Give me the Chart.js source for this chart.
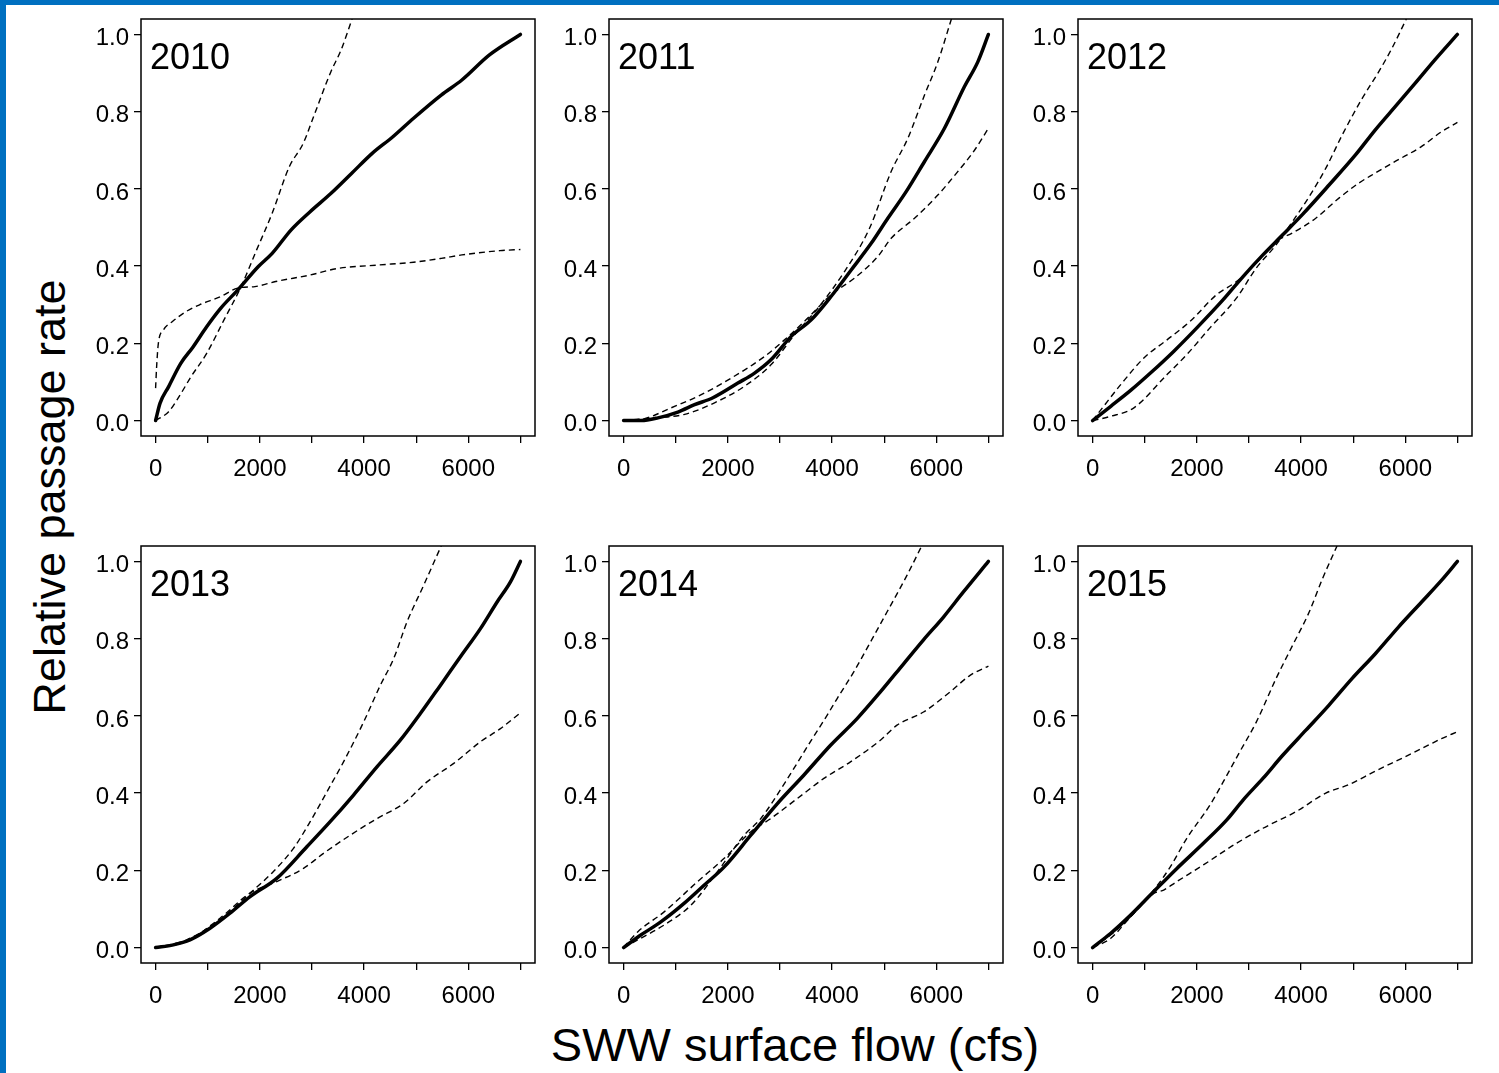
<!DOCTYPE html>
<html>
<head>
<meta charset="utf-8">
<script src="https://cdn.jsdelivr.net/npm/chart.js@4.4.0/dist/chart.umd.min.js"></script>
<style>
  body { margin: 0; background: #fff; }
  #page { position: relative; width: 1499px; height: 1073px; overflow: hidden; background: #fff;
          font-family: 'Liberation Sans', Arial, sans-serif; color: #000; }
  #edgeTop { position: absolute; left: 0; top: 0; width: 1499px; height: 5px; background: #0070c0; }
  #edgeLeft { position: absolute; left: 0; top: 0; width: 6px; height: 1073px; background: #0070c0; }
  canvas { position: absolute; }
  .year { position: absolute; font-size: 36px; line-height: 1; white-space: nowrap; }
  #ytitle { position: absolute; left: 49px; top: 497px; font-size: 45px; line-height: 1; white-space: nowrap;
            transform: translate(-50%, -50%) rotate(-90deg); }
  #xtitle { position: absolute; left: 795px; top: 1021px; font-size: 47px; line-height: 1; white-space: nowrap;
            transform: translateX(-50%); }
</style>
</head>
<body>
<div id="page">
  <div id="edgeTop"></div>
  <div id="edgeLeft"></div>
  <div id="ytitle">Relative passage rate</div>
  <div id="xtitle">SWW surface flow (cfs)</div>
</div>
<script>
// [flow, relative passage rate]
const years = ['2010', '2011', '2012', '2013', '2014', '2015'];

const fit2010 = [[0,0],[86,0.045],[251,0.088],[483,0.148],[715,0.19],[980,0.243],[1244,0.29],[1575,0.338],[1972,0.399],[2237,0.433],[2601,0.494],[2965,0.541],[3362,0.588],[3759,0.64],[4156,0.692],[4553,0.735],[4950,0.783],[5480,0.843],[5877,0.882],[6406,0.947],[7000,1.0]];
const hi2010 = [[0,0],[251,0.023],[450,0.062],[682,0.114],[980,0.174],[1310,0.26],[1641,0.347],[1939,0.442],[2237,0.537],[2568,0.658],[2833,0.718],[3031,0.787],[3362,0.903],[3560,0.96],[3770,1.04]];
const lo2010 = [[0,0.084],[20,0.14],[53,0.2],[152,0.235],[318,0.256],[582,0.282],[847,0.3],[1244,0.321],[1575,0.343],[1906,0.347],[2303,0.36],[2965,0.377],[3495,0.394],[4288,0.403],[4950,0.41],[5480,0.42],[5877,0.429],[6605,0.44],[7000,0.443]];

const fit2011 = [[0,0],[339,0],[659,0.007],[1042,0.022],[1362,0.041],[1714,0.059],[2193,0.097],[2513,0.123],[2832,0.158],[3216,0.218],[3600,0.261],[3984,0.322],[4367,0.39],[4751,0.459],[5070,0.524],[5422,0.593],[5774,0.671],[6157,0.757],[6541,0.865],[6797,0.929],[7000,1.0]];
const hi2011 = [[0,0],[595,0.007],[1170,0.016],[1745,0.046],[2321,0.089],[2832,0.145],[3280,0.222],[3728,0.291],[4239,0.386],[4719,0.498],[5134,0.645],[5454,0.731],[5774,0.843],[6030,0.929],[6290,1.04]];
const lo2011 = [[0,0],[403,0.005],[914,0.033],[1490,0.067],[2065,0.11],[2705,0.166],[3088,0.209],[3472,0.257],[3984,0.326],[4431,0.369],[4879,0.425],[5134,0.472],[5582,0.524],[6030,0.584],[6413,0.645],[6733,0.7],[7000,0.757]];

const fit2012 = [[0,0],[349,0.037],[730,0.078],[1110,0.123],[1555,0.179],[2000,0.24],[2506,0.313],[2887,0.373],[3268,0.429],[3648,0.481],[4029,0.534],[4537,0.61],[5044,0.688],[5425,0.753],[5806,0.813],[6187,0.873],[6567,0.934],[7000,1.0]];
const hi2012 = [[0,0],[349,0.011],[793,0.033],[1428,0.119],[1808,0.171],[2252,0.24],[2760,0.317],[3141,0.395],[3521,0.455],[3839,0.516],[4156,0.58],[4473,0.653],[4791,0.74],[5171,0.834],[5489,0.903],[5743,0.964],[6020,1.04]];
const lo2012 = [[0,0],[190,0.033],[539,0.093],[984,0.162],[1428,0.209],[1872,0.257],[2379,0.326],[2760,0.36],[3141,0.408],[3521,0.464],[3839,0.486],[4283,0.524],[4727,0.576],[5108,0.615],[5425,0.641],[5806,0.671],[6314,0.71],[6694,0.748],[7000,0.772]];

const fit2013 = [[0,0],[340,0.007],[660,0.02],[1044,0.05],[1428,0.089],[1813,0.132],[2325,0.179],[2902,0.261],[3350,0.326],[3798,0.395],[4247,0.468],[4695,0.537],[5080,0.606],[5464,0.679],[5849,0.753],[6233,0.826],[6553,0.895],[6809,0.947],[7000,1.0]];
const hi2013 = [[0,0],[596,0.02],[1236,0.072],[1813,0.141],[2261,0.197],[2646,0.257],[2966,0.326],[3286,0.403],[3606,0.481],[3991,0.584],[4311,0.679],[4567,0.748],[4823,0.843],[5143,0.938],[5480,1.04]];
const lo2013 = [[0,0],[596,0.016],[1236,0.076],[1813,0.141],[2325,0.171],[2838,0.205],[3222,0.244],[3734,0.291],[4247,0.334],[4759,0.373],[5208,0.429],[5721,0.477],[6233,0.533],[6617,0.567],[7000,0.608]];

const fit2014 = [[0,0],[338,0.033],[720,0.067],[1166,0.115],[1549,0.162],[1931,0.209],[2441,0.291],[2951,0.373],[3461,0.447],[3971,0.524],[4481,0.593],[4927,0.662],[5373,0.735],[5755,0.797],[6138,0.856],[6520,0.921],[7000,1.0]];
const hi2014 = [[0,0],[274,0.02],[784,0.059],[1294,0.11],[1804,0.197],[2313,0.291],[2632,0.334],[3110,0.43],[3588,0.534],[3907,0.602],[4098,0.645],[4417,0.714],[4736,0.791],[5054,0.869],[5437,0.964],[5720,1.04]];
const lo2014 = [[0,0],[274,0.041],[784,0.093],[1421,0.171],[1931,0.231],[2441,0.3],[2823,0.334],[3333,0.386],[3843,0.438],[4353,0.481],[4927,0.537],[5246,0.576],[5755,0.61],[6265,0.662],[6648,0.705],[7000,0.729]];

const fit2015 = [[0,0],[349,0.037],[730,0.084],[1174,0.145],[1618,0.205],[2126,0.27],[2570,0.33],[2887,0.382],[3268,0.438],[3648,0.498],[4093,0.563],[4537,0.628],[4981,0.697],[5425,0.761],[5869,0.83],[6313,0.895],[6694,0.951],[7000,1.0]];
const hi2015 = [[0,0],[349,0.033],[730,0.08],[1174,0.149],[1491,0.209],[1808,0.283],[2252,0.369],[2506,0.429],[2824,0.507],[3141,0.584],[3521,0.697],[3839,0.783],[4156,0.869],[4410,0.955],[4690,1.04]];
const lo2015 = [[0,0],[349,0.024],[730,0.08],[1174,0.14],[1364,0.149],[1618,0.171],[2126,0.214],[2760,0.27],[3268,0.309],[3903,0.352],[4474,0.4],[4918,0.422],[5425,0.457],[5996,0.494],[6441,0.524],[6694,0.541],[7000,0.559]];

const xTicks = [0, 1000, 2000, 3000, 4000, 5000, 6000, 7000];
const xLabelled = [0, 2000, 4000, 6000];
const yTicks = [0, 0.2, 0.4, 0.6, 0.8, 1.0];

const fits = [fit2010, fit2011, fit2012, fit2013, fit2014, fit2015];
const his = [hi2010, hi2011, hi2012, hi2013, hi2014, hi2015];
const los = [lo2010, lo2011, lo2012, lo2013, lo2014, lo2015];

// box layout (plot area of each panel, px)
const colLeft = [141, 609, 1078];
const rowTop = [19, 546];
const plotW = 394, plotH = 417;
const padL = 72, padT = 20, padR = 8, padB = 60;

const tickFont = {family: "'Liberation Sans', Arial, sans-serif", size: 24};

const boxPlugin = {
    id: 'box',
    afterDatasetsDraw(chart) {
        const a = chart.chartArea, ctx = chart.ctx;
        ctx.save();
        ctx.lineWidth = 1.5;
        ctx.strokeStyle = '#000';
        ctx.strokeRect(a.left, a.top, a.right - a.left, a.bottom - a.top);
        ctx.restore();
    }
};

const toXY = arr => arr.map(([x, y]) => ({x, y}));
const page = document.getElementById('page');

years.forEach((year, i) => {
    const left = colLeft[i % 3], top = rowTop[Math.floor(i / 3)];

    const canvas = document.createElement('canvas');
    canvas.width = padL + plotW + padR;
    canvas.height = padT + plotH + padB;
    canvas.style.left = (left - padL) + 'px';
    canvas.style.top = (top - padT) + 'px';
    canvas.style.width = canvas.width + 'px';
    canvas.style.height = canvas.height + 'px';
    page.appendChild(canvas);

    const label = document.createElement('div');
    label.className = 'year';
    label.textContent = year;
    label.style.left = (left + 9) + 'px';
    label.style.top = (top + 20) + 'px';
    page.appendChild(label);

    const dashed = {
        borderColor: '#000', borderWidth: 1.4, borderDash: [6, 4],
        pointRadius: 0, cubicInterpolationMode: 'monotone', clip: 0
    };

    new Chart(canvas, {
        type: 'line',
        data: {
            datasets: [
                {...dashed, label: 'upper', data: toXY(his[i])},
                {...dashed, label: 'lower', data: toXY(los[i])},
                {
                    label: year,
                    data: toXY(fits[i]),
                    borderColor: '#000',
                    borderWidth: 3.5,
                    borderCapStyle: 'round',
                    borderJoinStyle: 'round',
                    pointRadius: 0,
                    cubicInterpolationMode: 'monotone',
                    clip: 0
                }
            ]
        },
        options: {
            responsive: false,
            animation: false,
            events: [],
            layout: {padding: {left: 0, top: padT, right: padR, bottom: 0}},
            plugins: {legend: {display: false}, tooltip: {enabled: false}},
            scales: {
                x: {
                    type: 'linear',
                    min: -280,
                    max: 7280,
                    afterBuildTicks: s => { s.ticks = xTicks.map(v => ({value: v})); },
                    afterFit: s => { s.height = padB; },
                    border: {display: false},
                    grid: {drawOnChartArea: false, drawTicks: true, tickLength: 7, color: '#000', lineWidth: 1.3},
                    ticks: {
                        autoSkip: false,
                        maxRotation: 0,
                        color: '#000',
                        font: tickFont,
                        padding: 12,
                        callback: v => xLabelled.includes(v) ? String(v) : ''
                    }
                },
                y: {
                    type: 'linear',
                    min: -0.04,
                    max: 1.04,
                    afterBuildTicks: s => { s.ticks = yTicks.map(v => ({value: v})); },
                    afterFit: s => { s.width = padL; },
                    border: {display: false},
                    grid: {drawOnChartArea: false, drawTicks: true, tickLength: 7, color: '#000', lineWidth: 1.3},
                    ticks: {
                        color: '#000',
                        font: tickFont,
                        padding: 5,
                        labelOffset: 4,
                        callback: v => v.toFixed(1)
                    }
                }
            }
        },
        plugins: [boxPlugin]
    });
});
</script>
</body>
</html>
